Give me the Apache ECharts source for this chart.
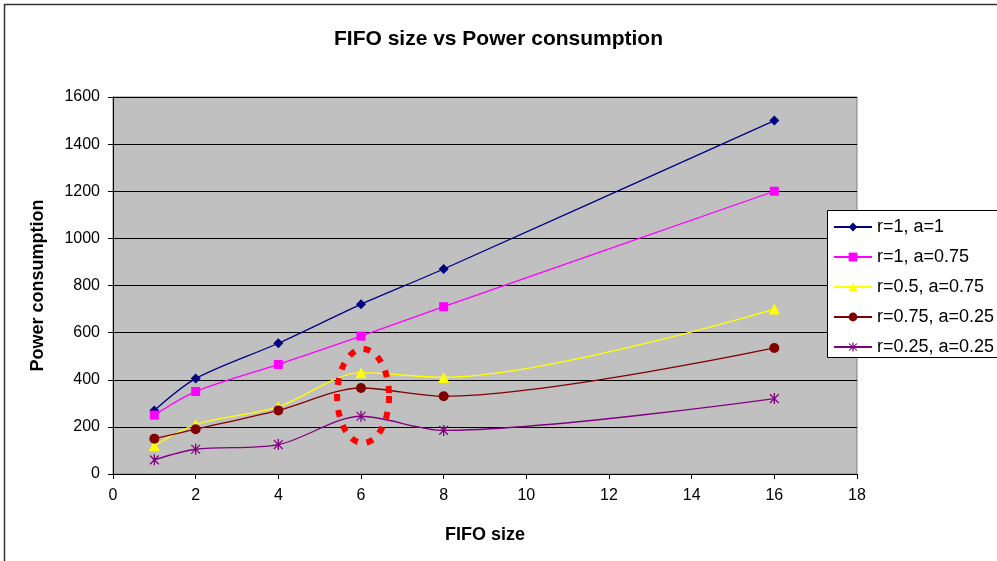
<!DOCTYPE html>
<html>
<head>
<meta charset="utf-8">
<script src="https://cdn.jsdelivr.net/npm/echarts@6/dist/echarts.min.js"></script>
<style>
  html, body { margin: 0; padding: 0; background: #fff; }
  #chart { width: 997px; height: 561px; }
</style>
</head>
<body>
<div id="chart"></div>
<script>
// data
const fifoSizes = [1, 2, 4, 6, 8, 16]
const seriesNames = ['r=1, a=1', 'r=1, a=0.75', 'r=0.5, a=0.75', 'r=0.75, a=0.25', 'r=0.25, a=0.25']
const r1a1 = [270, 405, 555, 720, 870, 1500]
const r1a075 = [250, 350, 465, 585, 710, 1200]
const r05a075 = [120, 210, 285, 430, 410, 700]
const r075a025 = [150, 190, 270, 365, 330, 535]
const r025a025 = [60, 105, 125, 245, 185, 320]
const highlight = [6.05, 331]   // centre of the red dotted ring

const colors = ['#000080', '#FF00FF', '#FFFF00', '#800000', '#800080']
const star = 'path://M-0.6,-5L0.6,-5L0.6,5L-0.6,5Z' +
  'M-4.4,-3.6L-3.6,-4.4L4.4,3.6L3.6,4.4Z' +
  'M3.6,-4.4L4.4,-3.6L-3.6,4.4L-4.4,3.6Z'
const symbols = ['diamond', 'rect', 'triangle', 'circle', star]
const sizes = [10, 9, 11, 10, 11]
const values = [r1a1, r1a075, r05a075, r075a025, r025a025]

const font = '"Liberation Sans", Arial, sans-serif'
const chart = echarts.init(document.getElementById('chart'))

chart.setOption({
  animation: false,
  textStyle: { fontFamily: font },
  title: {
    text: 'FIFO size vs Power consumption',
    left: 'center', top: 24,
    textStyle: { fontSize: 21, fontWeight: 'bold', color: '#000', fontFamily: font }
  },
  grid: {
    left: 113, top: 97, right: 140, bottom: 87,
    show: true, backgroundColor: '#C0C0C0', borderColor: '#808080', borderWidth: 1
  },
  legend: {
    orient: 'vertical',
    left: 827, top: 210, z: 10,
    padding: [7, 10, 3, 6],
    itemWidth: 38, itemHeight: 11, itemGap: 10,
    textStyle: { fontSize: 18, color: '#000', lineHeight: 20, fontFamily: font },
    data: seriesNames
  },
  xAxis: {
    type: 'value', min: 0, max: 18, interval: 2,
    name: 'FIFO size', nameLocation: 'middle', nameGap: 52,
    nameTextStyle: { fontSize: 18, fontWeight: 'bold', color: '#000' },
    axisLine: { lineStyle: { color: '#000', width: 1 } },
    axisTick: { length: 5, lineStyle: { color: '#000' } },
    axisLabel: { fontSize: 16, color: '#000', margin: 14 },
    splitLine: { show: false }
  },
  yAxis: {
    type: 'value', min: 0, max: 1600, interval: 200,
    name: 'Power consumption', nameLocation: 'middle', nameGap: 66,
    nameTextStyle: { fontSize: 18, fontWeight: 'bold', color: '#000' },
    axisLine: { show: true, lineStyle: { color: '#000', width: 1 } },
    axisTick: { show: true, length: 5, lineStyle: { color: '#000' } },
    axisLabel: { fontSize: 16, color: '#000', margin: 13, formatter: v => String(v) },
    splitLine: { lineStyle: { color: '#000', width: 1 } }
  },
  series: values.map((v, i) => ({
    name: seriesNames[i],
    type: 'line',
    data: fifoSizes.map((x, j) => [x, v[j]]),
    smooth: 0.3,
    symbol: symbols[i],
    symbolSize: sizes[i],
    symbolKeepAspect: true,
    color: colors[i],
    lineStyle: { width: 1.3, color: colors[i] },
    itemStyle: { color: colors[i] }
  }))
})

// red dotted ring round the x = 6 points, legend box running off the edge, outer frame
const c = chart.convertToPixel({ gridIndex: 0 }, highlight)
const ring = []
for (let k = 0; k < 60; k++) {
  const t = k / 60 * Math.PI * 2
  ring.push([c[0] + 26 * Math.cos(t), c[1] + 47 * Math.sin(t)])
}
chart.setOption({
  graphic: [
    {
      type: 'rect', z: -10, silent: true,
      shape: { x: 4.5, y: 4.5, width: 1100, height: 1000 },
      style: { fill: 'none', stroke: '#333', lineWidth: 1.5 }
    },
    {
      type: 'rect', z: 5, silent: true,
      shape: { x: 827.5, y: 210.5, width: 300, height: 147 },
      style: { fill: '#fff', stroke: '#000', lineWidth: 1 }
    },
    {
      type: 'polygon', z: 100, silent: true,
      shape: { points: ring },
      style: { fill: 'none', stroke: '#FF0000', lineWidth: 6, lineDash: [7, 9] }
    }
  ]
})
</script>
</body>
</html>
